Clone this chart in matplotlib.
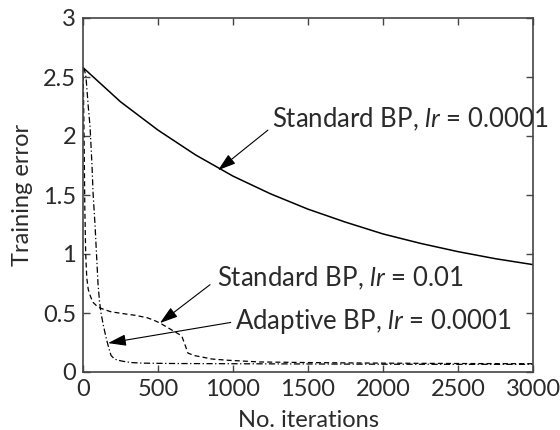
import matplotlib
matplotlib.use("Agg")
import matplotlib.pyplot as plt

plt.rcParams['font.family'] = ['Lato', 'DejaVu Sans']
plt.rcParams['mathtext.fontset'] = 'custom'
plt.rcParams['mathtext.it'] = 'Lato:italic'
plt.rcParams['mathtext.rm'] = 'Lato'

# Standard BP, lr = 0.0001 (solid)
x_slow = [0, 250, 500, 750, 1000, 1250, 1500, 1750, 2000, 2250, 2500, 2750, 3000]
y_slow = [2.58, 2.29, 2.05, 1.84, 1.66, 1.51, 1.38, 1.27, 1.17, 1.09, 1.02, 0.96, 0.91]

# Standard BP, lr = 0.01 (dashed)
x_fast = [0, 3, 8, 12, 18, 25, 35, 50, 67, 100, 140, 187, 240, 293, 350, 427, 470, 513,
          560, 600, 640, 660, 680, 700, 740, 780, 860, 960, 1180, 1500, 2000, 2500, 3000]
y_fast = [2.58, 2.40, 1.90, 1.40, 1.00, 0.80, 0.70, 0.64, 0.59, 0.55, 0.53, 0.51, 0.50, 0.49,
          0.48, 0.46, 0.44, 0.415, 0.38, 0.35, 0.32, 0.30, 0.23, 0.16, 0.14, 0.13, 0.11, 0.10,
          0.085, 0.08, 0.075, 0.072, 0.07]

# Adaptive BP, lr = 0.0001 (dash-dot)
x_adapt = [0, 10, 20, 35, 47, 60, 67, 80, 90, 100, 110, 120, 135, 147, 160, 175, 187, 210,
           233, 270, 320, 400, 600, 1000, 1500, 2000, 2500, 3000]
y_adapt = [2.58, 2.56, 2.50, 2.25, 2.08, 1.75, 1.52, 1.25, 1.00, 0.75, 0.60, 0.50, 0.40, 0.33,
           0.26, 0.19, 0.14, 0.11, 0.10, 0.09, 0.08, 0.075, 0.072, 0.07, 0.068, 0.066, 0.065, 0.065]

x_ticks = [0, 500, 1000, 1500, 2000, 2500, 3000]
y_ticks = [0, 0.5, 1, 1.5, 2, 2.5, 3]
y_ticklabels = ['0', '0.5', '1', '1.5', '2', '2.5', '3']

fig = plt.figure(figsize=(5.6, 4.3), dpi=100)
ax = fig.add_axes([83/560, 58/430, 450/560, 354/430])

ax.plot(x_slow, y_slow, color='black', lw=1.1, ls='-')
ax.plot(x_fast, y_fast, color='black', lw=0.9, ls=(0, (4, 2.5)))
ax.plot(x_adapt, y_adapt, color='black', lw=0.9, ls=(0, (5, 2, 1, 2)))

ax.set_xlim(0, 3000)
ax.set_ylim(0, 3)
ax.set_xticks(x_ticks)
ax.set_xticklabels([str(v) for v in x_ticks])
ax.set_yticks(y_ticks)
ax.set_yticklabels(y_ticklabels)

fs = 17
fa = 18.5
tc = '#2a2a2a'
ax.tick_params(direction='in', length=5, width=1, top=True, right=True,
               labelsize=fs, colors='#444444', labelcolor=tc, pad=5)
for s in ax.spines.values():
    s.set_linewidth(1.2)
    s.set_color('#444444')

ax.set_xlabel('No. iterations', fontsize=fs, color=tc, labelpad=7)
ax.set_ylabel('Training error', fontsize=fs, color=tc, labelpad=7)

arrow = dict(arrowstyle='-|>,head_length=1.1,head_width=0.35', color='black', lw=0.8,
             shrinkA=0, shrinkB=0, mutation_scale=10)

ax.annotate('', xy=(900, 1.71), xytext=(1233, 2.05), arrowprops=arrow)
ax.text(1260, 2.14, 'Standard BP, $\\mathit{lr}$ = 0.0001', fontsize=fa, color=tc,
        ha='left', va='center')

ax.annotate('', xy=(513, 0.415), xytext=(847, 0.74), arrowprops=arrow)
ax.text(893, 0.79, 'Standard BP, $\\mathit{lr}$ = 0.01', fontsize=fa, color=tc,
        ha='left', va='center')

ax.annotate('', xy=(167, 0.245), xytext=(985, 0.42), arrowprops=arrow)
ax.text(1013, 0.43, 'Adaptive BP, $\\mathit{lr}$ = 0.0001', fontsize=fa, color=tc,
        ha='left', va='center')

fig.savefig('out.png', dpi=100)
